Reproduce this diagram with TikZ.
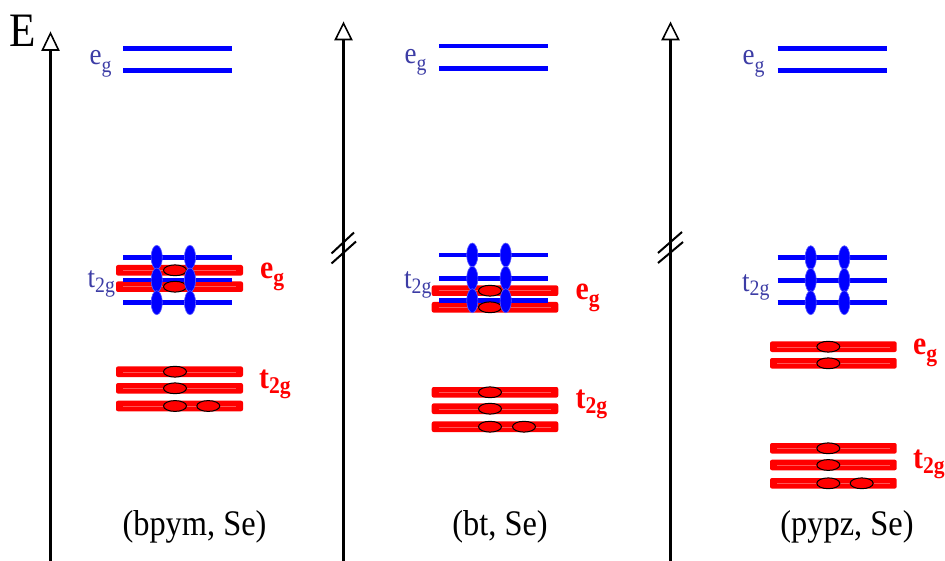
\documentclass[tikz,border=0pt]{standalone}
\usepackage{fontspec}
\setmainfont{Liberation Serif}[FakeStretch=0.9]
\definecolor{lvblue}{RGB}{0,0,255}
\definecolor{lvred}{RGB}{255,0,0}
\definecolor{labblue}{RGB}{60,60,165}
\definecolor{corered}{RGB}{255,85,85}
\definecolor{edgeblue}{RGB}{90,90,255}
\tikzset{
  axisline/.style={line width=2.2pt, black},
  axishead/.style={line width=1.6pt, black, fill=white, line join=miter},
  breakmark/.style={line width=2pt, black},
  bluelevel/.style={line width=4.6pt, lvblue},
  redcore/.style={line width=0.4pt, corered},
  blueorb/.style={fill=lvblue, draw=edgeblue, line width=0.6pt},
  redorb/.style={fill=lvred, draw=black, line width=1pt},
  bluelbl/.style={text=labblue, font=\fontsize{30}{30}\selectfont, inner sep=0pt, anchor=base west},
  redlbl/.style={text=lvred, font=\fontsize{33}{33}\selectfont\bfseries, inner sep=0pt, anchor=base west},
  caplbl/.style={text=black, font=\fontsize{36}{36}\selectfont, inner sep=0pt, anchor=base},
}
\newcommand\bsubA[1]{\raisebox{-7.5pt}{\fontsize{22}{22}\selectfont #1}}
\newcommand\bsubB[1]{\raisebox{-5pt}{\fontsize{22}{22}\selectfont #1}}
\newcommand\rsubA[1]{\raisebox{-7pt}{\fontsize{24}{24}\selectfont\bfseries #1}}
\newcommand\rsubB[1]{\raisebox{-5pt}{\fontsize{24}{24}\selectfont\bfseries #1}}
% red bar: x1, x2, y
\newcommand\redbar[3]{%
  \fill[lvred, rounded corners=2pt] (#1,#3-5.3) rectangle (#2,#3+5.3);
  \draw[redcore] (#1+7,#3) -- (#2-7,#3);}
\newcommand\bluebar[3]{\draw[bluelevel] (#1,#3) -- (#2,#3);}
\newcommand\bluedot[2]{\draw[blueorb] (#1,#2) ellipse [x radius=5.6pt, y radius=12pt];}
\newcommand\reddot[2]{\draw[redorb] (#1,#2) ellipse [x radius=11.5pt, y radius=5.4pt];}
\begin{document}
\begin{tikzpicture}[x=1pt,y=-1pt]
\useasboundingbox (0,0) rectangle (945,561);
% ---------- axes ----------
\coordinate (a1top) at (50.5,33.3); \coordinate (a1base) at (50.5,50); \coordinate (a1bot) at (50.5,561);
\coordinate (a2top) at (343.5,23.3); \coordinate (a2base) at (343.5,39.5); \coordinate (a2bot) at (343.5,561);
\coordinate (a3top) at (670.5,23.3); \coordinate (a3base) at (670.5,39.5); \coordinate (a3bot) at (670.5,561);
\draw[axisline] (a1base) -- (a1bot);
\draw[axisline] (a2base) -- (a2bot);
\draw[axisline] (a3base) -- (a3bot);
\draw[axishead] ([xshift=-8pt]a1base) -- (a1top) -- ([xshift=8pt]a1base) -- cycle;
\draw[axishead] ([xshift=-8pt]a2base) -- (a2top) -- ([xshift=8pt]a2base) -- cycle;
\draw[axishead] ([xshift=-8pt]a3base) -- (a3top) -- ([xshift=8pt]a3base) -- cycle;
% break marks
\draw[breakmark] (331.5,253.5) -- (354,232.5);
\draw[breakmark] (331.5,263.5) -- (356,241.5);
\draw[breakmark] (658,253) -- (682,232);
\draw[breakmark] (658,263) -- (683,242);
\node[font=\fontsize{48}{48}\selectfont, inner sep=0pt, anchor=base west] (E) at (9,46.7) {E};
% ---------- panel 1 ----------
\bluebar{123}{232}{48.7}
\bluebar{123}{232}{70.7}
\redbar{116}{243}{270.3}
\redbar{116}{243}{286.7}
\redbar{116}{243}{371.7}
\redbar{116}{243}{388.3}
\redbar{116}{243}{406}
\bluebar{123}{232}{257.3}
\bluebar{123}{232}{280}
\bluebar{123}{232}{302.7}
\reddot{175}{270.3}
\reddot{175}{286.7}
\reddot{175}{371.7}
\reddot{175}{388.3}
\reddot{175}{406}
\reddot{208.3}{406}
\foreach \yy in {257.3,280,302.7} {\bluedot{156.7}{\yy} \bluedot{190}{\yy}}
\node[bluelbl] (eg1) at (89.5,65) {e\bsubA{g}};
\node[bluelbl] (tg1) at (87.5,288) {t\bsubB{2g}};
\node[redlbl] (reg1) at (260,279) {e\rsubA{g}};
\node[redlbl] (rtg1) at (259,388.5) {t\rsubB{2g}};
\node[caplbl] (c1) at (194.5,535.5) {(bpym, Se)};
% ---------- panel 2 ----------
\bluebar{439.3}{547.7}{46}
\bluebar{439.3}{547.7}{68.7}
\redbar{431.7}{558.3}{290.7}
\redbar{431.7}{558.3}{307.3}
\redbar{431.7}{558.3}{392.3}
\redbar{431.7}{558.3}{408.7}
\redbar{431.7}{558.3}{426.7}
\bluebar{439.3}{547.7}{255}
\bluebar{439.3}{547.7}{278.3}
\bluebar{439.3}{547.7}{300.7}
\reddot{490}{290.7}
\reddot{490}{307.3}
\reddot{490}{392.3}
\reddot{490}{408.7}
\reddot{490}{426.7}
\reddot{524}{426.7}
\foreach \yy in {255,278.3,300.7} {\bluedot{472.3}{\yy} \bluedot{505.7}{\yy}}
\node[bluelbl] (eg2) at (404.5,63.5) {e\bsubA{g}};
\node[bluelbl] (tg2) at (404,288.5) {t\bsubB{2g}};
\node[redlbl] (reg2) at (575.5,299.5) {e\rsubA{g}};
\node[redlbl] (rtg2) at (575.5,408) {t\rsubB{2g}};
\node[caplbl] (c2) at (500,535.5) {(bt, Se)};
% ---------- panel 3 ----------
\bluebar{777.7}{886.5}{48.7}
\bluebar{777.7}{886.5}{70.7}
\redbar{770}{896.7}{346.7}
\redbar{770}{896.7}{363.3}
\redbar{770}{896.7}{448.3}
\redbar{770}{896.7}{465}
\redbar{770}{896.7}{483.3}
\bluebar{777.7}{886.5}{257.7}
\bluebar{777.7}{886.5}{280.3}
\bluebar{777.7}{886.5}{302.7}
\reddot{828.3}{346.7}
\reddot{828.3}{363.3}
\reddot{828.3}{448.3}
\reddot{828.3}{465}
\reddot{828.3}{483.3}
\reddot{861.7}{483.3}
\foreach \yy in {257.7,280.3,302.7} {\bluedot{810.7}{\yy} \bluedot{844.3}{\yy}}
\node[bluelbl] (eg3) at (742.5,65) {e\bsubA{g}};
\node[bluelbl] (tg3) at (742,291) {t\bsubB{2g}};
\node[redlbl] (reg3) at (913,354) {e\rsubA{g}};
\node[redlbl] (rtg3) at (913,468.5) {t\rsubB{2g}};
\node[caplbl] (c3) at (847,535.5) {(pypz, Se)};
\end{tikzpicture}
\end{document}
